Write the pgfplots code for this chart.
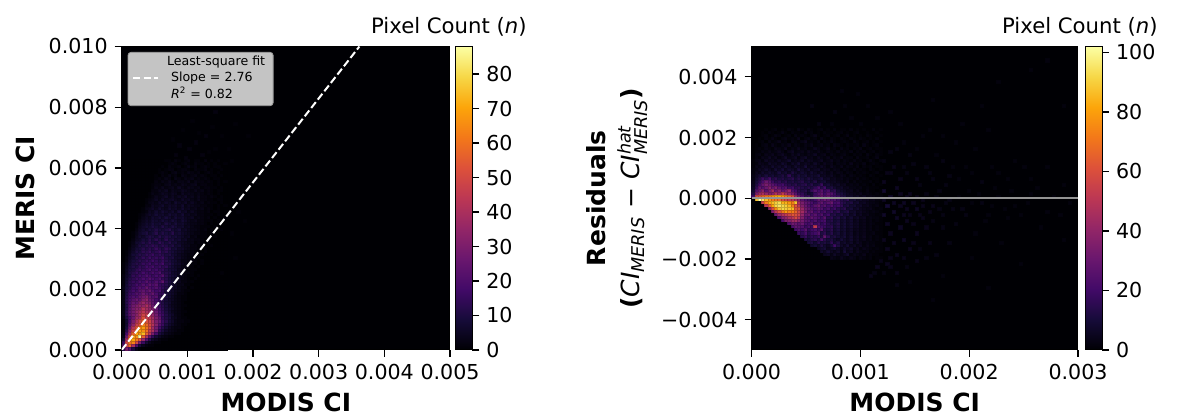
\documentclass[border=0pt]{standalone}
\usepackage{fontspec}
\setmainfont{DejaVu Sans}
\usepackage{pgfplots}
\usepackage{pgfplotstable}
\pgfplotsset{compat=1.18}
\definecolor{bgcol}{rgb}{0,0,0.0157}
\definecolor{legfill}{RGB}{196,196,196}
\newcommand{\tickf}{\fontsize{10.3}{12}\selectfont}
\pgfplotstableread[header=false]{
0 0 0 0 0 0 0 0 0 0 0 0 0 1 1 0 2 1 0 1 2 0 1 1 0 2 0 1 0 1 0 0
0 0 0 0 0 0 0 0 0 0 0 0 0 0 1 2 1 0 1 2 1 0 2 1 1 0 1 0 1 0 0 1
0 0 0 0 0 0 0 0 0 0 0 0 1 0 2 1 1 2 0 1 3 1 2 0 1 2 1 0 1 1 0 0
0 0 0 0 0 0 0 0 0 0 0 1 0 1 2 2 0 1 2 2 1 0 2 1 1 2 0 1 0 0 1 0
0 0 0 0 0 0 0 0 0 0 0 1 2 1 0 2 3 1 2 1 3 2 1 2 0 1 2 1 0 1 0 0
0 0 0 0 0 0 0 0 0 0 1 0 2 1 3 1 2 0 3 2 1 2 3 1 2 1 0 1 1 0 1 0
0 0 0 0 0 0 0 0 0 0 1 2 1 3 2 0 3 2 1 3 2 3 1 2 1 2 1 0 1 1 0 0
0 0 0 0 0 0 0 0 0 0 2 1 3 2 4 2 1 3 3 2 4 1 3 2 2 1 2 1 0 1 0 1
0 0 0 0 0 0 0 0 0 1 2 2 1 3 4 2 3 2 4 3 2 3 4 1 2 2 1 1 0 1 0 0
0 0 0 0 0 0 0 0 0 1 3 2 4 2 3 4 2 5 3 2 4 3 2 3 1 2 2 1 1 0 1 0
0 0 0 0 0 0 0 0 0 2 2 4 3 5 2 4 3 3 5 4 3 2 4 2 3 1 2 1 0 1 1 0
0 0 0 0 0 0 0 0 1 3 2 3 5 4 3 5 4 2 5 3 4 3 2 3 2 1 2 1 0 1 0 0
0 0 0 0 0 0 0 0 1 2 4 3 4 6 3 5 3 5 4 6 3 4 2 4 2 2 1 2 1 0 1 0
0 0 0 0 0 0 0 1 2 3 5 3 6 4 5 6 4 3 6 4 5 3 2 4 2 2 1 1 0 1 1 0
0 0 0 0 0 0 0 1 3 4 3 6 4 6 5 3 7 5 4 6 3 5 3 2 3 1 2 1 1 0 1 0
0 0 0 0 0 0 0 2 2 5 4 5 7 4 6 5 6 4 7 3 5 4 3 3 2 2 1 1 0 1 0 1
0 0 0 0 0 0 1 3 4 6 4 7 5 4 7 5 6 4 7 4 5 3 4 2 3 1 2 1 0 1 0 0
0 0 0 0 0 0 1 2 5 4 7 5 8 6 5 7 4 8 5 6 3 5 3 2 2 1 2 0 1 1 0 0
0 0 0 0 0 1 2 4 6 5 8 6 7 5 8 6 7 5 8 4 5 3 4 2 2 1 1 1 0 1 0 0
0 0 0 0 0 1 3 5 4 7 6 8 6 9 7 5 8 6 7 5 4 5 2 3 2 1 2 0 1 0 0 1
0 0 0 0 0 2 4 6 5 8 7 6 9 7 6 9 7 5 8 6 4 3 4 2 2 1 1 1 0 1 0 0
0 0 0 0 1 3 5 7 6 9 7 8 6 10 8 6 9 6 7 5 4 3 3 2 2 1 0 1 0 1 0 0
0 0 0 0 1 4 6 8 7 10 8 7 11 8 7 10 8 6 7 4 5 3 2 2 1 1 1 0 1 0 0 0
0 0 0 0 2 5 7 6 9 8 11 9 8 10 12 8 7 9 5 6 4 3 3 2 1 2 0 1 0 0 1 0
0 0 0 1 3 6 8 10 7 9 12 8 11 9 8 12 7 8 6 5 4 3 2 2 1 1 0 1 0 0 0 0
0 0 0 1 4 7 6 9 11 10 8 12 9 11 10 8 9 7 6 4 5 2 3 1 1 1 0 0 1 0 0 0
0 0 0 2 5 6 9 8 12 9 13 10 8 13 9 10 7 8 5 6 3 3 2 2 1 0 1 0 0 0 0 0
0 0 1 3 7 8 11 9 13 10 9 14 11 9 12 8 9 6 5 4 3 3 1 2 1 0 1 0 0 0 0 0
0 0 1 4 6 10 9 12 11 14 12 10 13 11 9 11 7 8 5 4 4 2 2 1 1 0 0 1 0 0 0 0
0 0 2 5 8 9 12 10 13 11 15 12 10 14 12 8 9 6 6 4 3 2 2 1 0 1 0 0 0 0 0 0
0 1 3 6 10 9 13 12 15 11 13 16 11 13 10 9 7 6 5 3 3 2 1 1 0 1 0 0 0 0 0 0
0 1 4 8 9 12 11 14 13 16 12 14 12 10 11 8 7 5 4 3 2 2 1 0 1 0 0 0 0 0 0 0
0 2 5 7 11 10 14 12 16 13 15 13 16 11 9 10 6 6 4 3 2 1 1 1 0 0 0 0 0 0 0 0
0 2 6 9 10 13 12 15 13 17 14 12 15 12 10 8 7 5 3 3 2 2 1 0 1 0 0 0 0 0 0 0
1 3 7 10 12 11 15 14 17 13 16 14 18 11 12 9 7 6 4 3 2 1 1 0 1 0 0 0 0 0 0 0
1 4 8 11 10 14 13 17 15 18 14 16 13 14 10 8 6 5 3 3 2 1 0 1 0 0 0 0 0 0 0 0
1 5 9 10 13 16 14 16 19 15 17 14 15 11 9 8 7 4 4 2 1 1 1 0 0 0 0 0 0 0 0 0
1 5 10 12 15 13 18 16 15 19 16 20 13 12 11 7 6 5 3 2 2 1 0 0 0 0 0 0 0 0 0 0
2 6 9 14 13 17 16 20 17 15 18 16 21 13 10 8 7 4 3 2 1 1 0 1 0 0 0 0 0 0 0 0
2 7 11 13 16 15 19 17 21 18 16 19 14 12 9 7 6 4 3 2 1 0 1 0 0 0 0 0 0 0 0 0
2 7 12 15 14 19 17 22 18 16 20 17 24 13 10 8 5 4 2 2 1 1 0 0 0 0 0 0 0 0 0 0
2 8 13 14 18 16 21 18 23 19 22 15 14 12 9 7 5 3 3 1 1 0 0 0 0 0 0 0 0 0 0 0
3 9 12 16 17 21 19 25 20 18 21 17 14 11 8 6 5 3 2 2 0 1 0 0 0 0 0 0 0 0 0 0
3 10 14 18 16 22 24 21 26 20 17 19 13 10 8 6 4 3 2 1 1 0 0 0 0 0 0 0 0 0 0 0
3 10 16 17 21 20 26 23 21 25 19 15 14 9 7 6 4 2 2 1 0 0 0 0 0 0 0 0 0 0 0 0
3 11 17 20 19 24 27 30 24 20 22 14 11 9 7 5 3 2 1 1 0 0 0 0 0 0 0 0 0 0 0 0
3 12 18 22 26 23 30 34 26 23 18 16 12 8 6 5 3 2 1 1 0 0 0 0 0 0 0 0 0 0 0 0
3 12 19 25 24 30 36 32 30 24 20 14 11 8 7 4 3 2 1 0 0 0 0 0 0 0 0 0 0 0 0 0
3 11 20 27 30 34 34 40 34 26 22 15 12 9 6 4 3 2 1 1 0 0 0 0 0 0 0 0 0 0 0 0
3 11 21 28 32 32 42 38 34 30 24 17 13 9 7 5 3 2 1 0 0 0 0 0 0 0 0 0 0 0 0 0
3 12 22 28 34 38 44 40 38 32 26 19 14 10 7 4 3 2 1 1 0 0 0 0 0 0 0 0 0 0 0 0
3 12 22 28 32 40 48 46 40 34 28 20 16 11 8 6 3 2 1 0 0 0 0 0 0 0 0 0 0 0 0 0
2 10 18 26 36 38 52 46 44 38 30 24 14 11 9 5 4 2 1 1 0 0 0 0 0 0 0 0 0 0 0 0
1 7 18 30 40 48 56 52 48 40 30 26 16 12 8 6 3 2 2 1 1 0 0 0 0 0 0 0 0 0 0 0
1 7 22 34 46 52 62 58 50 42 32 22 16 10 7 5 3 2 1 1 0 0 0 0 0 0 0 0 0 0 0 0
1 9 26 42 54 62 68 60 52 38 28 18 12 8 5 3 2 2 1 0 0 0 0 0 0 0 0 0 0 0 0 0
1 12 32 48 60 70 66 60 46 40 28 14 10 6 4 3 2 1 1 0 0 0 0 0 0 0 0 0 0 0 0 0
2 18 40 56 70 66 74 56 44 30 18 10 7 4 3 2 1 1 0 0 0 0 0 0 0 0 0 0 0 0 0 0
3 26 52 68 66 88 56 40 24 14 8 5 3 2 1 1 0 0 0 0 0 0 0 0 0 0 0 0 0 0 0 0
8 38 64 70 62 54 36 22 12 6 4 2 1 1 0 0 0 0 0 0 0 0 0 0 0 0 0 0 0 0 0 0
16 48 60 64 50 30 16 8 4 2 1 1 0 0 0 0 0 0 0 0 0 0 0 0 0 0 0 0 0 0 0 0
22 46 58 40 20 9 4 2 1 1 0 0 0 0 0 0 0 0 0 0 0 0 0 0 0 0 0 0 0 0 0 0
14 30 22 10 4 1 0 0 0 0 0 0 0 0 0 0 0 0 0 0 0 0 0 0 0 0 0 0 0 0 0 0
}\tabL
\pgfplotstableread{
cx ry v
25 70 2
28 78 2
30 85 1
20 66 2
18 72 1
24 64 2
33 62 1
36 50 1
34 30 1
30 25 1
38 70 1
22 90 1
26 88 1
40 55 1
16 64 2
22 68 2
26 65 1
19 63 2
30 70 1
28 66 1
21 75 1
17 67 2
23 71 1
27 73 1
15 69 1
32 66 1
34 74 1
29 60 1
35 45 1
33 38 1
37 42 1
}\sparseL
\pgfplotstableread[header=false]{
0 0 0 0 1 0 1 2 0 1 0 2 1 0 3 1 0 2 1 0 1 2 0 1 0 2 0 1 1 0 2 0 1 0 1 0 0 2 0 1
0 0 0 1 0 2 1 0 1 3 1 0 2 1 1 0 3 1 2 0 1 0 2 1 1 0 1 2 0 1 0 1 2 0 0 1 0 0 1 0
0 0 0 1 2 0 1 3 2 0 1 2 0 3 1 2 1 0 2 4 1 0 1 2 0 1 2 0 1 3 0 1 0 1 0 2 1 0 0 1
0 0 1 0 2 1 3 1 0 2 3 1 2 1 4 0 2 3 1 2 0 3 1 0 2 1 0 2 1 0 2 1 0 2 1 0 1 0 2 0
0 0 1 2 0 3 1 2 4 1 2 0 3 2 1 3 5 1 2 1 3 0 2 1 3 1 0 1 2 1 0 3 1 0 1 2 0 1 0 1
0 1 0 2 3 1 4 2 1 3 2 4 1 3 2 1 3 2 4 1 2 3 1 2 0 3 2 1 0 2 1 1 2 0 3 1 0 1 2 0
0 1 2 1 3 2 1 4 3 2 5 1 3 2 5 2 3 1 2 5 3 1 2 4 1 2 0 3 1 2 0 2 1 3 0 1 2 0 1 1
0 1 1 3 2 4 2 3 5 3 1 4 6 2 3 4 2 5 3 2 4 2 1 3 2 1 3 1 2 1 3 0 2 1 2 0 1 2 0 1
0 2 3 1 4 3 5 2 4 6 3 2 5 3 6 3 2 4 3 6 2 3 4 1 3 2 1 2 3 1 0 2 1 2 0 3 1 0 2 1
0 2 1 4 3 6 3 5 2 4 7 3 4 6 2 5 7 3 4 2 5 3 2 4 1 3 2 4 1 2 2 0 3 1 1 2 0 1 3 0
1 3 4 2 6 4 5 3 6 4 5 8 3 5 4 7 3 6 5 3 4 6 2 3 5 2 3 1 3 2 1 3 1 2 0 1 3 1 0 2
1 2 5 4 3 7 5 6 4 8 6 3 7 5 9 4 6 5 3 7 4 2 5 3 4 1 3 2 3 1 4 1 2 1 3 0 1 2 1 0
1 4 3 6 5 4 8 5 7 5 9 6 4 8 6 5 10 4 6 5 3 6 4 2 5 3 2 4 1 3 2 1 3 0 2 1 2 0 1 1
2 3 6 5 8 6 4 9 6 10 5 8 7 5 11 7 5 8 4 6 7 3 5 4 2 4 3 1 3 2 1 3 1 2 1 0 2 1 0 1
2 5 4 8 6 9 7 6 11 7 9 6 12 8 6 9 7 5 9 6 4 7 5 3 5 2 4 3 1 3 2 0 2 1 2 1 0 1 2 0
3 6 9 7 11 8 10 7 9 12 8 16 9 7 11 8 10 6 8 7 10 5 6 4 6 3 2 4 3 1 3 2 1 2 1 0 2 1 0 1
3 8 12 18 14 20 12 15 11 13 10 12 15 9 13 10 8 12 9 7 8 11 6 7 4 5 3 4 2 3 2 1 3 1 2 1 0 1 1 0
4 10 15 22 30 26 18 14 16 12 15 11 13 10 12 14 9 11 8 13 7 9 10 6 5 6 4 3 2 4 1 3 1 2 1 1 2 0 1 0
5 12 20 28 34 30 26 22 19 21 16 14 12 15 11 13 15 10 14 9 11 18 8 10 7 5 7 4 5 2 3 2 3 1 2 1 0 2 0 1
6 16 28 24 30 36 28 34 26 22 25 18 20 14 16 13 11 14 12 16 22 14 20 10 12 8 6 7 4 5 3 3 2 3 1 2 1 1 1 0
8 24 30 38 26 34 44 30 36 28 32 40 24 20 15 12 14 9 17 24 20 26 18 22 13 16 9 7 6 4 5 2 4 2 1 3 1 1 0 1
12 34 42 46 40 36 38 48 42 52 44 38 34 26 18 16 12 8 10 18 24 28 20 26 24 18 12 11 8 6 5 4 3 5 2 3 2 1 2 1
20 58 62 66 70 72 76 80 82 78 72 66 60 42 30 22 16 18 12 22 24 30 24 28 22 20 18 13 12 7 8 5 7 4 6 3 4 3 2 2
0 88 102 95 86 78 72 70 68 60 56 52 50 44 36 26 22 18 16 20 28 24 30 26 22 24 18 14 12 16 8 10 6 7 5 5 3 4 2 2
0 0 0 55 72 82 86 90 93 84 84 78 72 88 46 34 28 26 22 18 24 28 22 26 30 20 22 15 13 10 12 7 9 5 6 4 3 3 2 1
0 0 0 0 50 66 82 92 95 92 90 85 72 62 50 36 30 24 20 26 30 22 26 20 24 18 20 16 10 12 8 9 6 7 4 5 3 2 3 1
0 0 0 0 0 40 60 76 88 92 90 88 86 62 60 42 32 28 24 22 26 24 18 22 16 20 14 12 15 8 10 6 8 5 4 3 4 2 1 2
0 0 0 0 0 0 35 50 60 70 78 72 72 66 56 44 34 24 28 20 24 18 22 16 18 12 16 9 11 13 7 8 5 6 4 3 2 3 2 1
0 0 0 0 0 0 0 30 42 48 52 56 62 60 56 40 28 30 22 26 20 24 16 20 12 14 10 13 8 10 6 9 4 6 3 4 2 2 1 2
0 0 0 0 0 0 0 0 24 36 40 46 50 58 50 36 26 22 28 24 22 18 26 14 16 10 13 8 11 6 9 5 7 4 5 2 3 2 2 1
0 0 0 0 0 0 0 0 0 22 34 36 42 44 38 32 26 24 20 24 18 20 22 12 14 9 11 7 9 6 8 4 6 3 4 2 3 1 2 1
0 0 0 0 0 0 0 0 0 0 0 24 32 30 26 30 22 20 26 18 22 16 20 14 12 10 13 7 10 6 8 5 6 3 4 2 3 2 1 1
0 0 0 0 0 0 0 0 0 0 0 0 22 28 26 24 18 22 18 52 24 20 18 14 16 9 12 7 10 6 8 5 6 3 4 2 3 1 2 1
0 0 0 0 0 0 0 0 0 0 0 0 0 20 24 20 26 16 20 22 18 26 14 12 15 8 11 7 9 5 7 4 5 3 4 2 3 1 2 1
0 0 0 0 0 0 0 0 0 0 0 0 0 0 18 16 22 14 18 20 24 12 16 10 14 8 10 6 9 5 7 3 5 3 4 2 2 3 1 1
0 0 0 0 0 0 0 0 0 0 0 0 0 0 0 14 18 12 16 14 18 12 28 16 10 12 9 7 10 5 8 4 6 3 5 2 3 1 2 1
0 0 0 0 0 0 0 0 0 0 0 0 0 0 0 0 12 10 14 16 12 22 14 10 12 8 6 10 7 5 8 4 6 3 4 2 3 1 2 1
0 0 0 0 0 0 0 0 0 0 0 0 0 0 0 0 0 10 12 8 14 10 12 9 16 8 12 6 8 5 7 3 6 4 2 3 2 2 1 1
0 0 0 0 0 0 0 0 0 0 0 0 0 0 0 0 0 0 8 10 7 12 8 6 10 20 12 7 5 9 4 6 3 5 2 4 2 3 1 1
0 0 0 0 0 0 0 0 0 0 0 0 0 0 0 0 0 0 0 0 6 8 10 5 7 9 6 4 8 5 7 3 5 2 4 3 2 1 2 1
0 0 0 0 0 0 0 0 0 0 0 0 0 0 0 0 0 0 0 0 0 7 5 9 6 4 7 3 10 4 6 2 5 3 2 3 1 2 1 1
0 0 0 0 0 0 0 0 0 0 0 0 0 0 0 0 0 0 0 0 0 0 5 6 3 7 4 3 5 8 2 4 3 2 4 1 2 1 1 0
0 0 0 0 0 0 0 0 0 0 0 0 0 0 0 0 0 0 0 0 0 0 0 0 4 3 2 5 3 2 4 3 1 3 2 1 2 0 1 1
}\tabR
\pgfplotstableread{
cx ry v
40 52 8
42 50 7
44 53 6
41 47 9
43 45 7
46 48 6
48 51 5
50 46 6
52 49 4
47 42 5
45 40 6
50 38 5
46 36 6
52 43 4
55 47 4
57 52 3
60 49 3
58 44 3
62 41 3
54 35 4
48 33 5
44 31 5
41 28 5
38 27 5
36 24 4
44 25 4
50 29 4
56 31 3
60 35 3
64 46 3
66 52 2
70 48 3
72 44 2
68 38 2
75 50 2
78 43 2
80 47 2
85 51 2
90 45 2
88 40 2
76 35 2
67 30 2
58 24 2
48 22 2
55 16 2
72 20 2
82 28 2
95 36 2
42 58 4
46 60 3
50 56 4
54 58 3
58 62 3
44 66 3
48 64 3
52 70 2
60 57 3
65 60 2
70 55 3
75 58 2
80 62 2
85 56 2
90 60 2
95 54 2
62 68 2
72 72 2
45 74 2
30 76 2
25 78 3
18 80 3
20 74 3
35 80 2
27 85 2
75 88 2
85 92 2
90 95 2
70 80 2
95 80 2
55 82 2
40 49 6
40 44 7
41 41 6
42 38 5
43 48 6
44 43 6
45 47 5
45 51 5
46 44 5
47 50 5
47 46 5
48 44 4
49 48 5
49 41 4
50 50 4
51 44 4
52 47 4
53 40 4
53 51 3
54 45 4
55 42 3
56 50 3
57 46 3
58 40 3
59 48 3
40 36 5
41 33 5
42 30 4
43 35 5
39 29 4
37 25 3
40 25 3
42 27 4
46 30 4
49 35 4
51 33 3
53 30 3
47 27 3
44 21 3
61 46 3
63 50 2
65 44 3
67 48 2
69 51 2
71 42 2
73 47 2
74 53 2
77 46 2
79 52 2
82 44 2
84 48 2
87 53 2
92 50 2
94 44 2
97 48 2
40 55 5
41 58 4
43 60 4
45 56 4
47 58 3
49 61 3
51 54 3
53 60 3
55 56 3
56 64 2
59 54 3
61 60 2
63 56 2
67 58 2
73 60 2
78 56 2
83 60 2
40 62 3
42 65 3
46 68 2
50 66 2
54 72 2
58 70 2
64 74 2
68 66 2
33 74 2
38 76 2
42 78 2
24 74 2
28 80 2
32 84 2
}\sparseR
\pgfplotsset{
  hist/.style={
    scale only axis, axis on top, clip=true,
    axis background/.style={fill=bgcol},
    colormap={inferno}{rgb255=(0,0,4) rgb255=(22,11,57) rgb255=(66,10,104) rgb255=(106,23,110) rgb255=(147,38,103) rgb255=(188,55,84) rgb255=(221,81,58) rgb255=(243,120,25) rgb255=(252,165,10) rgb255=(246,215,70) rgb255=(252,255,164)},
    tick align=outside, xtick pos=lower, ytick pos=left,
    major tick length=3.5pt,
    tick style={black, line width=0.65pt},
    axis line style={black, line width=0.5pt},
    tick label style={font=\tickf},
    label style={font=\fontsize{12.5}{17}\selectfont\bfseries},
    point meta=explicit,
    colorbar,
  },
  cell/.style={forget plot, only marks, scatter, mark=square*, mark size=0.78pt,
    mark options={line width=0.1pt, xscale=1.08}},
}
\begin{document}
\begin{tikzpicture}
\path[use as bounding box] (0,0) rectangle (598pt,207.5pt);
\begin{axis}[hist, at={(60.85pt,32.5pt)}, width=164.15pt, height=151.75pt,
  xmin=0, xmax=0.005, ymin=0, ymax=0.01,
  xtick={0,0.001,0.002,0.003,0.004,0.005},
  xticklabels={0.000,0.001,0.002,0.003,0.004,0.005},
  ytick={0,0.002,0.004,0.006,0.008,0.01},
  yticklabels={0.000,0.002,0.004,0.006,0.008,0.010},
  scaled ticks=false,
  xlabel={MODIS CI}, ylabel={MERIS CI},
  point meta min=0, point meta max=88,
  colorbar style={at={(parent axis.south east)}, anchor=south west, xshift=-5.9pt,
    width=8.5pt, height=151.75pt, ytick={0,10,...,80}, ytick pos=right, yticklabel pos=right,
    tick align=outside, major tick length=3.5pt,
    tick style={black, line width=0.65pt}, axis line style={black, line width=0.5pt},
    yticklabel style={font=\tickf, /pgf/number format/assume math mode=true}},
]
\pgfplotsinvokeforeach{0,...,31}{
  \addplot[cell] table[x expr={(#1+0.5)*0.00005}, y expr={(62-\coordindex+0.5)*0.0001}, meta index=#1]{\tabL};
}
\addplot[cell] table[x expr={(\thisrow{cx}+0.5)*0.00005}, y expr={(\thisrow{ry}+0.5)*0.0001}, meta=v]{\sparseL};
\end{axis}
\begin{axis}[scale only axis, hide axis, at={(60.85pt,32.5pt)}, width=164.15pt, height=151.75pt,
  xmin=0, xmax=0.005, ymin=0, ymax=0.01,
  legend style={at={(0.018,0.982)}, anchor=north west, fill=legfill, draw=gray!80,
    rounded corners=1.5pt, font=\fontsize{6.3}{7.25}\selectfont, inner xsep=2pt, inner ysep=2pt,
    nodes={inner ysep=0pt}, row sep=1.4pt, legend cell align=left},
  legend image code/.code={\draw[#1] (0pt,0pt) -- (12.5pt,0pt);},
]
\addlegendimage{empty legend}
\addlegendentry{\hspace{2pt}Least-square fit}
\addplot[white, line width=1pt, dash pattern=on 3.7pt off 1.6pt] coordinates {(0,0) (0.00362,0.01)};
\addlegendentry{\hspace{4pt}Slope = 2.76}
\addlegendimage{empty legend}
\addlegendentry{\hspace{4pt}\textit{R}\textsuperscript{2} = 0.82}
\end{axis}
\begin{axis}[hist, at={(375.75pt,32.5pt)}, width=163.25pt, height=151.75pt,
  xmin=0, xmax=0.003, ymin=-0.005, ymax=0.005,
  xtick={0,0.001,0.002,0.003},
  xticklabels={0.000,0.001,0.002,0.003},
  ytick={-0.004,-0.002,0,0.002,0.004},
  yticklabels={−0.004,−0.002,0.000,0.002,0.004},
  scaled ticks=false,
  xlabel={MODIS CI},
  ylabel={Residuals\\(\mbox{\mdseries\textit{CI}$_{\mbox{\fontsize{8.8}{9}\selectfont\textit{MERIS}}}$ − \textit{CI}$^{\mbox{\fontsize{8.8}{9}\selectfont\textit{hat}}}_{\mbox{\fontsize{8.8}{9}\selectfont\textit{MERIS}}}$})},
  ylabel style={align=center},
  point meta min=0, point meta max=102,
  colorbar style={at={(parent axis.south east)}, anchor=south west, xshift=-5pt,
    width=8.5pt, height=151.75pt, ytick={0,20,40,60,80,100}, ytick pos=right, yticklabel pos=right,
    tick align=outside, major tick length=3.5pt,
    tick style={black, line width=0.65pt}, axis line style={black, line width=0.5pt},
    yticklabel style={font=\tickf, /pgf/number format/assume math mode=true}},
]
\pgfplotsinvokeforeach{0,...,39}{
  \addplot[cell] table[x expr={(#1+0.5)*0.00003}, y expr={(72-\coordindex+0.5-50)*0.0001}, meta index=#1]{\tabR};
}
\addplot[cell] table[x expr={(\thisrow{cx}+0.5)*0.00003}, y expr={(\thisrow{ry}+0.5-50)*0.0001}, meta=v]{\sparseR};
\end{axis}
\begin{axis}[scale only axis, hide axis, at={(375.75pt,32.5pt)}, width=163.25pt, height=151.75pt,
  xmin=0, xmax=0.003, ymin=-0.005, ymax=0.005]
\addplot[draw=gray!85, line width=1pt] coordinates {(0,0) (0.003,0)};
\end{axis}
\node[anchor=base east, inner sep=0pt, font=\fontsize{10.6}{13}\selectfont] at (263.5pt,190.5pt) {Pixel Count (\textit{n})};
\node[anchor=base east, inner sep=0pt, font=\fontsize{10.6}{13}\selectfont] at (579pt,190.5pt) {Pixel Count (\textit{n})};
\end{tikzpicture}
\end{document}
